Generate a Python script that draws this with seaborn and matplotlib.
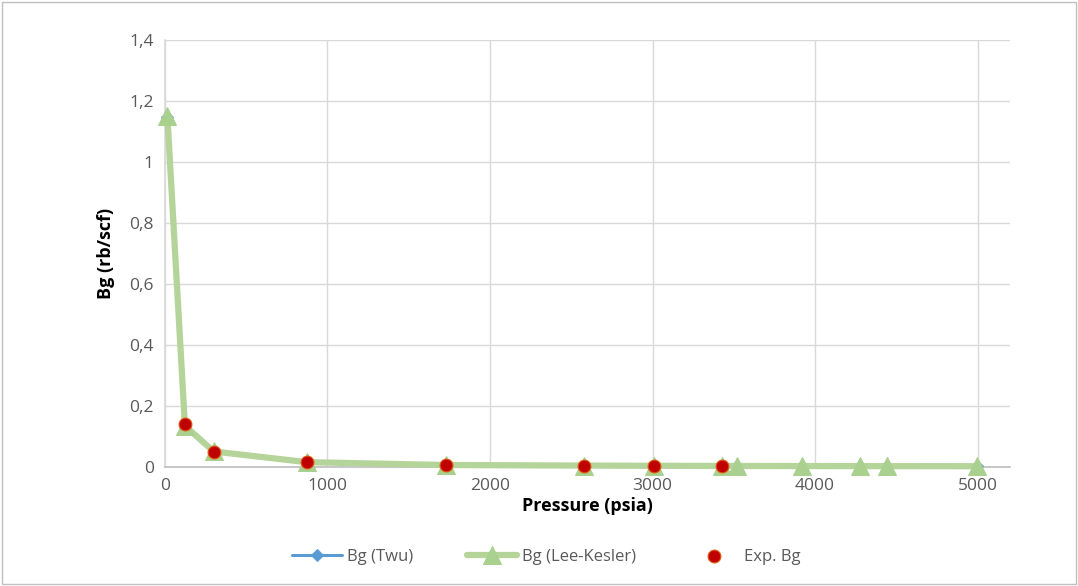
import matplotlib
matplotlib.use("Agg")
import matplotlib.pyplot as plt
import seaborn as sns
import pandas as pd
from matplotlib.ticker import FuncFormatter

# Gas formation volume factor vs pressure
pressure_model = [15, 123, 300, 873, 1728, 2577, 3008, 3426, 3518, 3918, 4275, 4440, 4995]
bg_twu = [1.148, 0.134, 0.050, 0.016, 0.0065, 0.0047, 0.0040, 0.0035, 0.0034, 0.0031, 0.0029, 0.0028, 0.0026]
bg_lee_kesler = [1.150, 0.135, 0.051, 0.016, 0.0066, 0.0048, 0.0041, 0.0036, 0.0035, 0.0032, 0.0030, 0.0029, 0.0027]

pressure_exp = [123, 300, 873, 1728, 2577, 3008, 3426]
bg_exp = [0.142, 0.048, 0.016, 0.0070, 0.0050, 0.0040, 0.0032]

y_ticks = [0, 0.2, 0.4, 0.6, 0.8, 1.0, 1.2, 1.4]
x_ticks = [0, 1000, 2000, 3000, 4000, 5000]

sns.set_theme(style="white")
plt.rcParams["font.family"] = ["Open Sans", "DejaVu Sans"]

fig = plt.figure(figsize=(10.78, 5.86), dpi=100)
ax = fig.add_axes([0.153, 0.203, 0.784, 0.729])

df_model = pd.DataFrame({"p": pressure_model, "twu": bg_twu, "lk": bg_lee_kesler})
df_exp = pd.DataFrame({"p": pressure_exp, "bg": bg_exp})

sns.lineplot(data=df_model, x="p", y="twu", ax=ax, sort=False, color="#5B9BD5",
             linewidth=2.2, marker="D", markersize=6, markeredgecolor="#5B9BD5",
             label="Bg (Twu)", zorder=3, clip_on=False)
sns.lineplot(data=df_model, x="p", y="lk", ax=ax, sort=False, color="#B5D49A",
             linewidth=4.5, marker="^", markersize=13, markerfacecolor="#A9D08E",
             markeredgecolor="#A9D08E", label="Bg (Lee-Kesler)", zorder=4, clip_on=False)
sns.scatterplot(data=df_exp, x="p", y="bg", ax=ax, color="#C00000", s=85,
                edgecolor="#E05A10", linewidth=0.8, label="Exp. Bg", zorder=5, clip_on=False)

ax.set_xlim(0, 5200)
ax.set_ylim(0, 1.4)
ax.set_xticks(x_ticks)
ax.set_yticks(y_ticks)


def comma_fmt(v, _):
    s = f"{v:.1f}".rstrip("0").rstrip(".")
    return s.replace(".", ",")


ax.yaxis.set_major_formatter(FuncFormatter(comma_fmt))
ax.grid(True, color="#D9D9D9", linewidth=1)
ax.set_axisbelow(True)
for side in ["top", "right"]:
    ax.spines[side].set_visible(False)
ax.spines["left"].set_color("#D9D9D9")
ax.spines["bottom"].set_color("#BFBFBF")
ax.tick_params(axis="both", length=0, labelsize=12.5, colors="#595959", pad=8)

ax.set_xlabel("Pressure (psia)", fontsize=13, fontweight="bold", color="black", labelpad=2)
ax.set_ylabel("Bg (rb/scf)", fontsize=13, fontweight="bold", color="black", labelpad=10)

handles, labels = ax.get_legend_handles_labels()
ax.legend(handles, labels, loc="center", bbox_to_anchor=(0.507, 0.05),
          bbox_transform=fig.transFigure, ncol=3, frameon=False, fontsize=12,
          labelcolor="#595959", columnspacing=3.2, handlelength=3.0, handletextpad=0.3)

# light frame around the chart
fig.patches.append(plt.Rectangle((0.002, 0.003), 0.996, 0.994, transform=fig.transFigure,
                                 fill=False, edgecolor="#BFBFBF", linewidth=1))

fig.savefig("out.png", dpi=100)
